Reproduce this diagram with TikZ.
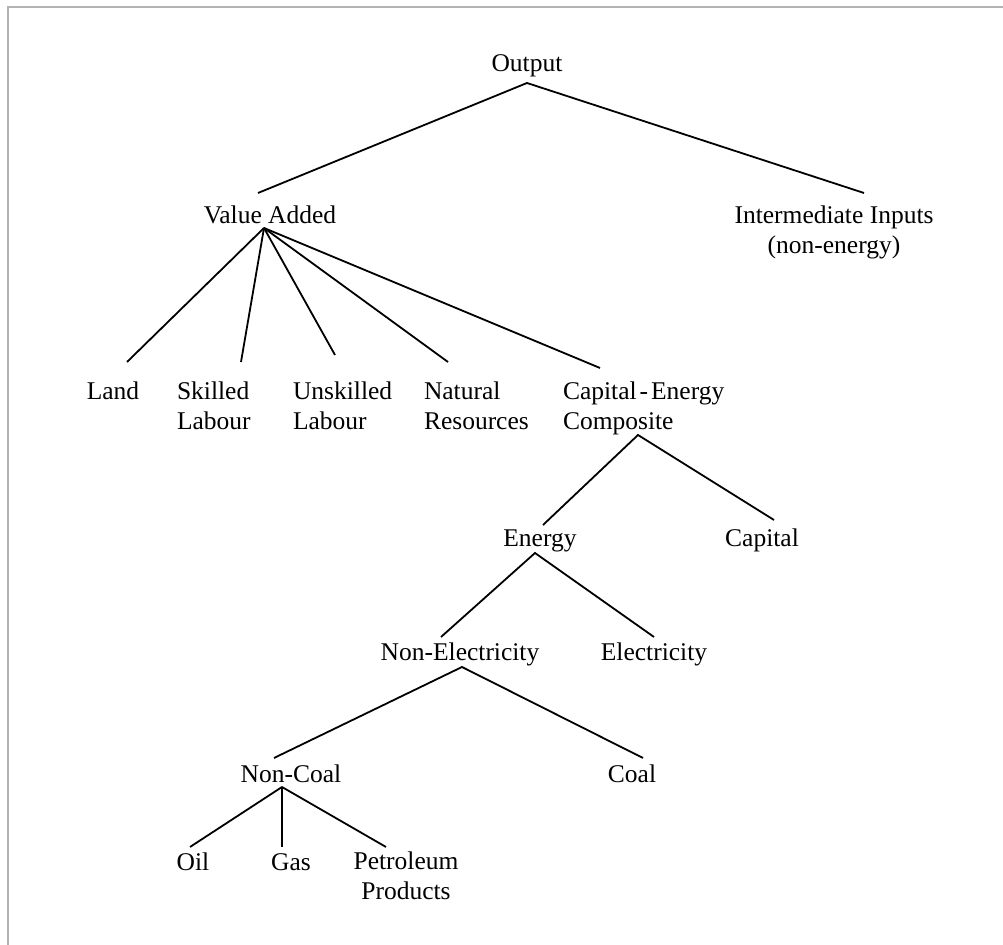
\documentclass[tikz,border=0pt]{standalone}
\usepackage{fontspec}
\setmainfont{Liberation Serif}
\usetikzlibrary{calc}
\begin{document}
\begin{tikzpicture}[x=0.5pt,y=-0.5pt,
  lbl/.style={inner sep=0pt,outer sep=0pt,font=\fontsize{12.75}{15}\selectfont},
  lblc/.style={lbl,align=center,anchor=base},
  lbll/.style={lbl,align=left,anchor=base west},
  conn/.style={line width=0.9pt,black},
  frame/.style={line width=1pt,color=black!30}]
\useasboundingbox (0,0) rectangle (1003,945);
\draw[frame] (7.5,945) -- (7.5,7.5) -- (1003,7.5);
% nodes (base = baseline of the last line)
\node[lblc] (out) at (527,72) {Output};
\node[lblc] (va) at (270,224) {Value Added};
\node[lblc] (ii) at (834,254) {Intermediate Inputs\\(non-energy)};
\node[lblc] (land) at (113,400) {Land};
\node[lbll] (sk) at (177,430) {Skilled\\Labour};
\node[lbll] (us) at (293,430) {Unskilled\\Labour};
\node[lbll] (nr) at (424,430) {Natural\\Resources};
\node[lbll] (ce) at (563,430) {Capital\kern1.5pt-\kern1.5pt Energy\\Composite};
\node[lblc] (en) at (540,547) {Energy};
\node[lblc] (cap) at (762,547) {Capital};
\node[lblc] (ne) at (460,661) {Non-Electricity};
\node[lblc] (el) at (654,661) {Electricity};
\node[lblc] (nc) at (291,783) {Non-Coal};
\node[lblc] (coal) at (632,783) {Coal};
\node[lblc] (oil) at (193,871) {Oil};
\node[lblc] (gas) at (291,871) {Gas};
\node[lblc] (pp) at (406,900) {Petroleum\\Products};
% connectors
\draw[conn] ($(va.base)+(-12,-31)$) -- ($(out.base)+(0,11)$) -- ($(ii.base)+(30,-61)$);
\draw[conn] ($(va.base)+(-6,4)$) -- ($(land.base)+(14,-38)$);
\draw[conn] ($(va.base)+(-6,4)$) -- ($(sk.base west)+(64,-68)$);
\draw[conn] ($(va.base)+(-6,4)$) -- ($(us.base west)+(42,-75)$);
\draw[conn] ($(va.base)+(-6,4)$) -- ($(nr.base west)+(24,-68)$);
\draw[conn] ($(va.base)+(-6,4)$) -- ($(ce.base west)+(37,-62)$);
\draw[conn] ($(en.base)+(3,-22)$) -- ($(ce.base west)+(75,5)$) -- ($(cap.base)+(12,-27)$);
\draw[conn] ($(ne.base)+(-19,-24)$) -- ($(en.base)+(-5,6)$) -- ($(el.base)+(0,-24)$);
\draw[conn] ($(nc.base)+(-17,-25)$) -- ($(ne.base)+(2,6)$) -- ($(coal.base)+(11,-25)$);
\draw[conn] ($(nc.base)+(-9,4)$) -- ($(oil.base)+(-3,-24)$);
\draw[conn] ($(nc.base)+(-9,4)$) -- ($(gas.base)+(-9,-24)$);
\draw[conn] ($(nc.base)+(-9,4)$) -- ($(pp.base)+(-20,-53)$);
\end{tikzpicture}
\end{document}
